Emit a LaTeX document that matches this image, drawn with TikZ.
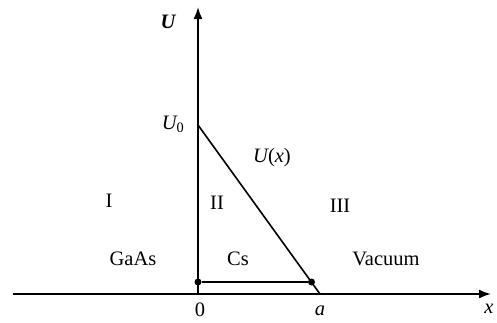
\documentclass[tikz,border=0pt]{standalone}
\usepackage{fontspec}
\setmainfont{Liberation Serif}
\usetikzlibrary{arrows.meta,positioning}
\tikzset{
  axis/.style={-{Latex[length=12pt,width=9pt]}, line width=1.8pt},
  pot/.style={line width=1.6pt},
  dot/.style={circle, fill=black, inner sep=0pt, minimum size=7pt},
  lbl/.style={font=\fontsize{20.5}{24}\selectfont, inner sep=1pt},
}

\begin{document}
\begin{tikzpicture}[x=1pt,y=-1pt]
\useasboundingbox (0,0) rectangle (497,322);

% ===================== axes =====================
\coordinate (O)    at (198,294);
\coordinate (XL)   at (13,294);
\coordinate (XR)   at (491,294);
\coordinate (YT)   at (198,7);
\draw[axis] (XL) -- (XR);
\draw[axis] (O) -- (YT);

% ===================== potential =====================
\coordinate (U0) at (198,125);
\coordinate (A)  at (320,294);
\node[dot] (P1) at (198,282) {};
\node[dot] (P2) at (311.5,282) {};
\draw[pot] (U0) -- (A);
\draw[pot] (P1) -- (P2);

% ===================== labels =====================
\node[lbl] (LU)  at (168,22) {\bfseries\itshape U};
\node[lbl] (LU0) at (173,124) {\itshape U\textsubscript{\upshape 0}};
\node[lbl] (LUx) at (272,158) {{\itshape U}({\itshape x})};
\node[lbl] (L0)  at (200,310) {0};
\node[lbl] (La)  at (320,311) {\itshape a};
\node[lbl] (Lx)  at (489,309) {\itshape x};

\node[lbl] (R1)  at (109,201) {I};
\node[lbl] (R2)  at (217,203) {II};
\node[lbl] (R3)  at (340,206) {III};
\node[lbl] (M1)  at (133,259) {GaAs};
\node[lbl] (M2)  at (238,259) {Cs};
\node[lbl] (M3)  at (386,259) {Vacuum};

\end{tikzpicture}
\end{document}
